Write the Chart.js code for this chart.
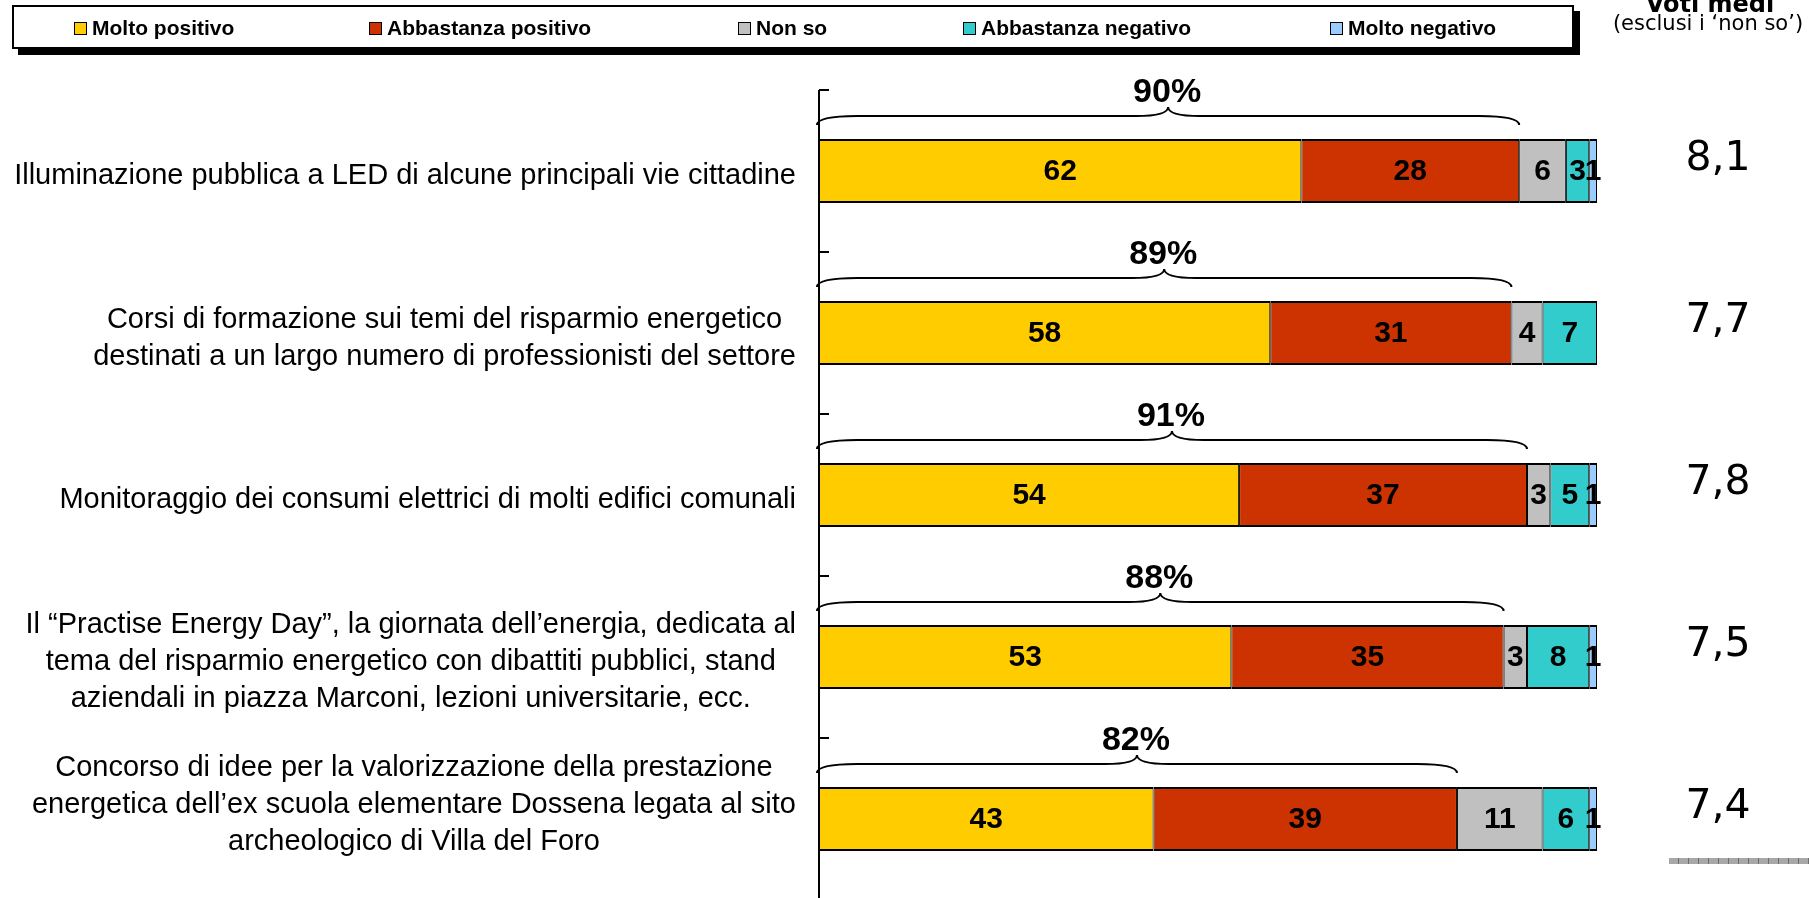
<!DOCTYPE html>
<html><head><meta charset="utf-8">
<script src="https://cdn.jsdelivr.net/npm/chart.js@4.4.1/dist/chart.umd.min.js"></script>
<style>
html,body{margin:0;padding:0;overflow:hidden;background:#fff;width:1809px;height:898px;}
#wrap{position:relative;width:1809px;height:898px;overflow:hidden;}
#c{position:absolute;left:0;top:0;}
#legend{position:absolute;left:12px;top:5px;width:1558px;height:40px;border:2px solid #000;box-shadow:6px 6px 0 #000;background:#fff;}
.li{position:absolute;top:1px;height:40px;display:flex;align-items:center;font:bold 21px "Liberation Sans",Arial,sans-serif;color:#000;white-space:nowrap;}
.sw{width:11px;height:11px;border:1.5px solid #000;margin-right:5px;flex:none;}
#dash{position:absolute;left:1669px;top:858px;width:140px;height:6px;background:repeating-linear-gradient(90deg,#a8a8a8 0 9px,#6e6e6e 9px 10px);}
</style></head>
<body><div id="wrap"><canvas id="c" width="1809" height="902"></canvas><div id="legend"></div><div id="dash"></div></div>
<script>
// ---- data ----
const categories = [
  ["Illuminazione pubblica a LED di alcune principali vie cittadine"],
  ["Corsi di formazione sui temi del risparmio energetico", "destinati a un largo numero di professionisti del settore"],
  ["Monitoraggio dei consumi elettrici di molti edifici comunali"],
  ["Il \u201cPractise Energy Day\u201d, la giornata dell\u2019energia, dedicata al", "tema del risparmio energetico con dibattiti pubblici, stand", "aziendali in piazza Marconi, lezioni universitarie, ecc."],
  ["Concorso di idee per la valorizzazione della prestazione", "energetica dell\u2019ex scuola elementare Dossena legata al sito", "archeologico di Villa del Foro"]
];
const seriesNames = ["Molto positivo", "Abbastanza positivo", "Non so", "Abbastanza negativo", "Molto negativo"];
const moltoPositivo      = [62, 58, 54, 53, 43];
const abbastanzaPositivo = [28, 31, 37, 35, 39];
const nonSo              = [6, 4, 3, 3, 11];
const abbastanzaNegativo = [3, 7, 5, 8, 6];
const moltoNegativo      = [1, 0, 1, 1, 1];
const totalePositivi     = [90, 89, 91, 88, 82];
const votiMedi           = ["8,1", "7,7", "7,8", "7,5", "7,4"];
const votiTitle = "Voti medi";
const votiSubtitle = "(esclusi i \u2018non so\u2019)";

const seriesColors = ["#FFCC00", "#CC3300", "#C0C0C0", "#33CCCC", "#99CCFF"];
const seriesValues = [moltoPositivo, abbastanzaPositivo, nonSo, abbastanzaNegativo, moltoNegativo];

// ---- legend (HTML, built from the series) ----
const legendX = [60, 355, 724, 949, 1316];
const lg = document.getElementById('legend');
seriesNames.forEach((n, i) => {
  const d = document.createElement('div');
  d.className = 'li'; d.style.left = legendX[i] + 'px';
  const s = document.createElement('span'); s.className = 'sw'; s.style.background = seriesColors[i];
  d.appendChild(s); d.appendChild(document.createTextNode(n));
  lg.appendChild(d);
});

const LABEL_FONT = '29px "Liberation Sans", Arial, sans-serif';
const overlay = {
  id: 'overlay',
  afterDatasetsDraw(chart) {
    const ctx = chart.ctx, xs = chart.scales.x, ys = chart.scales.y, ca = chart.chartArea;
    ctx.save();
    // axis line + ticks at category boundaries
    const x0 = xs.getPixelForValue(0);
    ctx.strokeStyle = '#000'; ctx.lineWidth = 2;
    ctx.beginPath(); ctx.moveTo(x0, ca.top); ctx.lineTo(x0, ca.bottom); ctx.stroke();
    const step = ys.getPixelForValue(1) - ys.getPixelForValue(0);
    for (let i = 0; i <= categories.length; i++) {
      const y = ys.getPixelForValue(i) - step / 2;
      ctx.beginPath(); ctx.moveTo(x0, y); ctx.lineTo(x0 + 10, y); ctx.stroke();
    }
    // category labels: block right-aligned, lines centered within block, kept inside the page
    ctx.font = LABEL_FONT; ctx.fillStyle = '#000'; ctx.textAlign = 'center'; ctx.textBaseline = 'middle';
    const lh = 37, right = x0 - 23, maxLast = chart.height - 60;
    categories.forEach((lines, i) => {
      const w = Math.max(...lines.map(l => ctx.measureText(l).width));
      const cx = right - w / 2;
      let cy = ys.getPixelForValue(i) + 5;
      const last = cy + (lines.length - 1) / 2 * lh;
      if (last > maxLast) cy -= (last - maxLast);
      lines.forEach((l, j) => ctx.fillText(l, cx, cy + (j - (lines.length - 1) / 2) * lh));
    });
    // data labels
    ctx.font = 'bold 30px "Liberation Sans", Arial, sans-serif';
    chart.data.datasets.forEach((ds, di) => {
      const meta = chart.getDatasetMeta(di);
      meta.data.forEach((el, i) => {
        const v = ds.data[i];
        if (!v) return;
        ctx.fillText(String(v), (el.x + el.base) / 2, el.y + 1);
      });
    });
    // braces + totals
    const m0 = chart.getDatasetMeta(0);
    ctx.lineWidth = 2;
    totalePositivi.forEach((t, i) => {
      const el = m0.data[i];
      const top = el.y - el.height / 2;
      const a = xs.getPixelForValue(0) - 2, b = xs.getPixelForValue(t), xm = (a + b) / 2;
      const yEnd = top - 14, yH = top - 23, yPk = top - 32, r = 40, rm = 32;
      ctx.beginPath();
      ctx.moveTo(a, yEnd);
      ctx.quadraticCurveTo(a, yH, a + r, yH);
      ctx.lineTo(xm - rm, yH);
      ctx.quadraticCurveTo(xm, yH, xm, yPk);
      ctx.quadraticCurveTo(xm, yH, xm + rm, yH);
      ctx.lineTo(b - r, yH);
      ctx.quadraticCurveTo(b, yH, b, yEnd);
      ctx.stroke();
      ctx.font = 'bold 34px "Liberation Sans", Arial, sans-serif';
      ctx.fillText(t + '%', xm - 1, top - 46);
    });
    // voti medi
    ctx.font = '41px "DejaVu Sans", Verdana, sans-serif'; ctx.textBaseline = 'alphabetic';
    votiMedi.forEach((v, i) => ctx.fillText(v, 1718, ys.getPixelForValue(i) - 1));
    ctx.font = 'bold 24px "DejaVu Sans", Verdana, sans-serif';
    ctx.fillText(votiTitle, 1710, 12);
    ctx.font = '21px "DejaVu Sans", Verdana, sans-serif';
    ctx.fillText(votiSubtitle, 1708, 30);
    ctx.restore();
  }
};

new Chart(document.getElementById('c'), {
  type: 'bar',
  data: {
    labels: categories.map(c => c.join(' ')),
    datasets: seriesNames.map((n, i) => ({
      label: n, data: seriesValues[i], backgroundColor: seriesColors[i],
      borderColor: '#000', borderWidth: {top: 2, bottom: 2, left: 1, right: 1}, borderSkipped: false,
      categoryPercentage: 0.395, barPercentage: 1
    }))
  },
  options: {
    indexAxis: 'y', responsive: false, animation: false,
    layout: {padding: {left: 819, right: 212, top: 90, bottom: 2}},
    scales: {
      x: {stacked: true, min: 0, max: 100, display: false},
      y: {stacked: true, display: false}
    },
    plugins: {legend: {display: false}, tooltip: {enabled: false}}
  },
  plugins: [overlay]
});
</script></body></html>
